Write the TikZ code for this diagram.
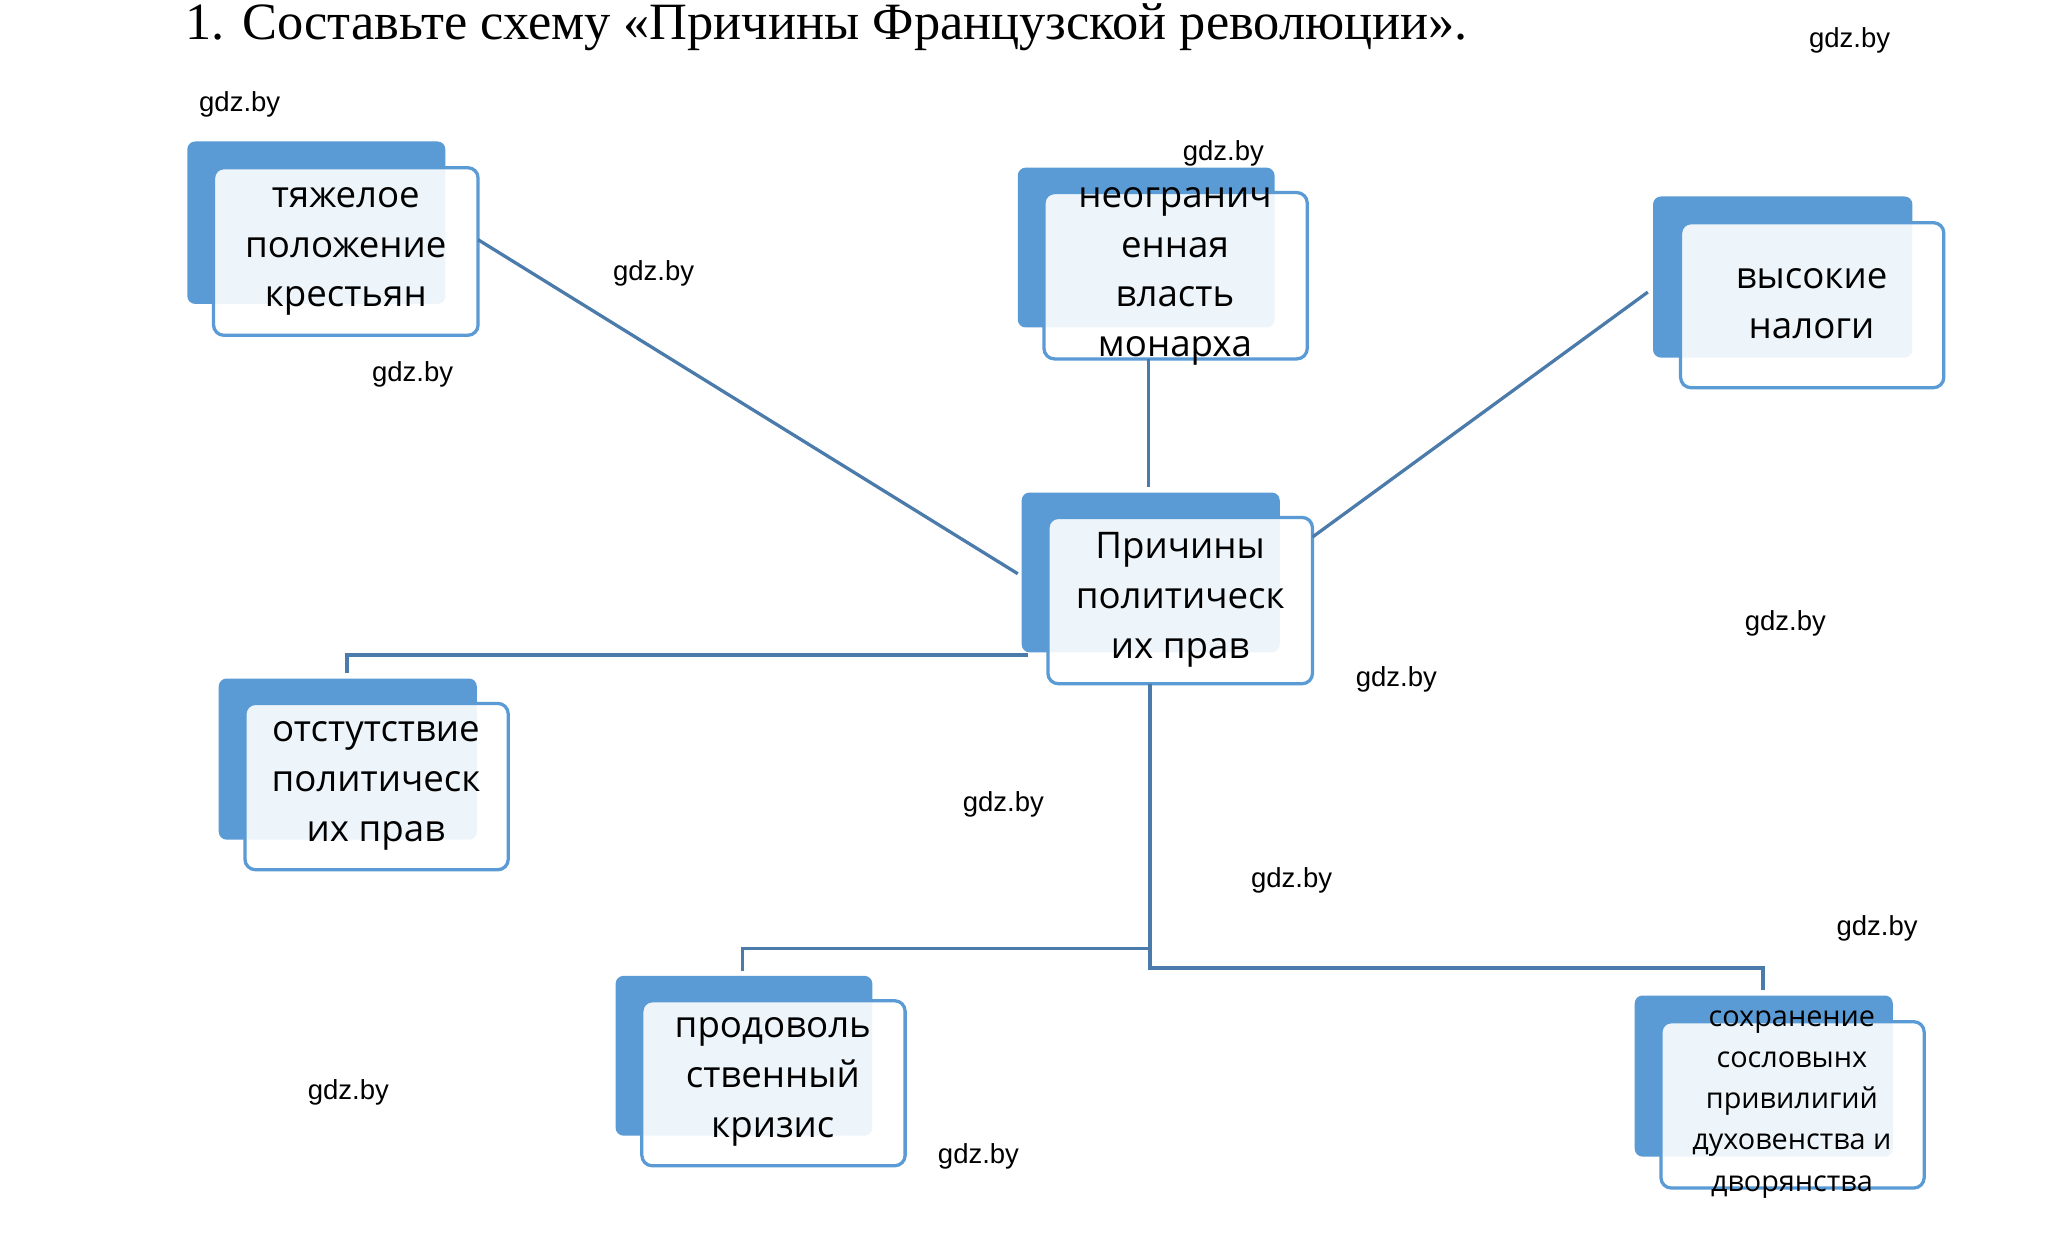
\documentclass[tikz,border=0pt]{standalone}
\usepackage{fontspec}
\setmainfont{Liberation Serif}
\newfontfamily\boxfont{Open Sans}
\newfontfamily\wmfont{Liberation Sans}
\definecolor{bk}{HTML}{5B9BD5}
\definecolor{ln}{HTML}{4A7BAA}
\begin{document}
\begin{tikzpicture}[x=1pt,y=-1pt,
  back/.style={fill=bk,rounded corners=6pt},
  front/.style={draw=bk,line width=2.5pt,fill=white,fill opacity=0.9,rounded corners=8pt},
  txt/.style={font=\boxfont\fontsize{28}{38}\selectfont,align=center,text=black},
  small/.style={font=\boxfont\fontsize{22}{31.5}\selectfont,align=center,text=black},
  wm/.style={font=\wmfont\fontsize{21}{24}\selectfont,text=black},
  conn/.style={draw=ln,line width=2.5pt}]
\useasboundingbox (0,0) rectangle (1562,950);
\fill[white] (0,0) rectangle (1562,950);
\node[anchor=base west,font=\fontsize{40}{44}\selectfont] (title) at (138,30) {1. Составьте схему «Причины Французской революции».};
% boxes
\newcommand\mybox[9]{%
  \fill[back] (#1,#2) rectangle (#3,#4);
  \path[front] (#5,#6) rectangle (#7,#8);
  \coordinate (#9) at (#5,#6);}
\mybox{143}{108}{340}{232}{163}{128}{365}{256}{b1}
\mybox{777}{128}{973}{250}{797}{147}{998}{274}{b2}
\mybox{1262}{150}{1460}{273}{1283}{170}{1484}{296}{b3}
\mybox{780}{376}{977}{498}{800}{395}{1002}{522}{b4}
\mybox{167}{518}{364}{641}{187}{537}{388}{664}{b5}
\mybox{470}{745}{666}{867}{490}{764}{691}{890}{b6}
\mybox{1248}{760}{1445}{883}{1268}{780}{1469}{907}{b7}
\node[txt] (t1) at (264,192) {тяжелое\\положение\\крестьян};
\node[txt] (t2) at (897,211) {неогранич\\енная\\власть\\монарха};
\node[txt] (t3) at (1383,232) {высокие\\налоги};
\node[txt] (t4) at (901,458) {Причины\\политическ\\их прав};
\node[txt] (t5) at (287,600) {отстутствие\\политическ\\их прав};
\node[txt] (t6) at (590,826) {продоволь\\ственный\\кризис};
\node[small] (t7) at (1368,843) {сохранение\\сословынх\\привилигий\\духовенства и\\дворянства};
% connectors
\coordinate (j1) at (878,724);
\draw[conn] ([shift={(202,55)}]b1) -- ([shift={(-23,43)}]b4);
\draw[conn] ([shift={(80,127)}]b2) -- ([shift={(77,-23)}]b4);
\draw[conn] ([shift={(202,15)}]b4) -- ([shift={(-25,53)}]b3);
\draw[conn] ([shift={(-15,105)}]b4) -| ([shift={(78,-23)}]b5);
\draw[conn] ([shift={(78,127)}]b4) -- (j1);
\draw[conn] (j1) -| ([shift={(77,-23)}]b6);
\draw[conn] (j1) -- ++(0,15) -| ([shift={(78,-24)}]b7);
% watermarks
\node[wm] (w1) at (1412,31) {gdz.by};
\node[wm] (w2) at (183,80) {gdz.by};
\node[wm] (w3) at (934,117) {gdz.by};
\node[wm] (w4) at (499,209) {gdz.by};
\node[wm] (w5) at (315,286) {gdz.by};
\node[wm] (w6) at (1363,476) {gdz.by};
\node[wm] (w7) at (1066,519) {gdz.by};
\node[wm] (w8) at (766,614) {gdz.by};
\node[wm] (w9) at (986,672) {gdz.by};
\node[wm] (w10) at (1433,709) {gdz.by};
\node[wm] (w11) at (266,834) {gdz.by};
\node[wm] (w12) at (747,883) {gdz.by};
\end{tikzpicture}
\end{document}
